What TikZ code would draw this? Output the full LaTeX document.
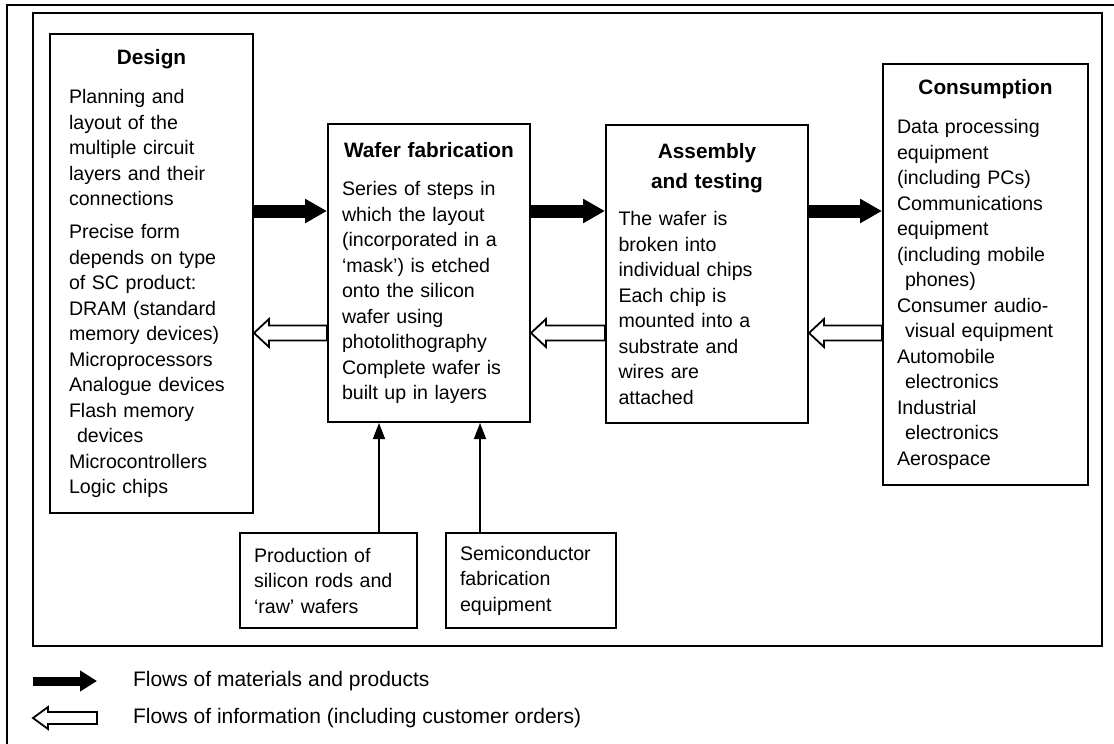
\documentclass[tikz,border=0pt]{standalone}
\usepackage{fontspec}
\setmainfont{Liberation Sans}
\usetikzlibrary{arrows.meta,calc}

\tikzset{
  stage/.style={draw, line width=1pt, anchor=north west, align=left, inner ysep=0pt,
    font=\fontsize{9.8}{12.75}\selectfont},
  matflow/.style={line width=6.5pt, -{Triangle[length=11pt,width=11.5pt]}},
  supply/.style={line width=0.8pt, -{Triangle[length=8pt,width=6pt]}},
  infoflow/.style={draw, line width=0.9pt, fill=white, line join=miter},
  legendtext/.style={anchor=west, font=\fontsize{10.5}{12}\selectfont}
}
\newcommand{\boxtitle}[1]{\hspace*{\fill}{\fontsize{10.4}{12.75}\selectfont\bfseries #1}\hspace*{\fill}\mbox{}}
% hollow arrow: tip, tail, half head, half shaft
\newcommand{\infoarrow}[4]{%
  \draw[infoflow] (#1) -- ++(7.5pt,#3) |- ($(#2)+(0,#4)$) -- ($(#2)+(0,-#4)$)
    -| ($(#1)+(7.5pt,-#3)$) -- cycle;}

\begin{document}
\begin{tikzpicture}[x=0.5pt, y=-0.5pt]
  \useasboundingbox (0,0) rectangle (1114,744);

  % frames
  \draw[line width=0.8pt] (1114,5) -- (7,5) -- (7,744);
  \draw[line width=1.3pt] (33,13) rectangle (1102,646);

  % stages
  \node[stage, text width=82.5pt, inner xsep=9.5pt, minimum height=239.5pt] (design) at (49,33) {%
    \boxtitle{Design}\\[6.75pt]
    Planning and\\ layout of the\\ multiple circuit\\ layers and their\\ connections\\[3.75pt]
    Precise form\\ depends on type\\ of SC product:\\ DRAM (standard\\ memory devices)\\
    Microprocessors\\ Analogue devices\\ Flash memory\\ \hspace*{4pt}devices\\
    Microcontrollers\\ Logic chips};

  \node[stage, text width=87pt, inner xsep=7pt, minimum height=149pt] (wafer) at (327,123) {%
    \boxtitle{Wafer fabrication}\\[6.25pt]
    Series of steps in\\ which the layout\\ (incorporated in a\\ `mask') is etched\\
    onto the silicon\\ wafer using\\ photolithography\\ Complete wafer is\\ built up in layers};

  \node[stage, text width=88.5pt, inner xsep=6.25pt, minimum height=149pt] (assembly) at (605,124) {%
    \boxtitle{Assembly}\\[2.25pt]\boxtitle{and testing}\\[5.75pt]
    The wafer is\\ broken into\\ individual chips\\ Each chip is\\ mounted into a\\
    substrate and\\ wires are\\ attached};

  \node[stage, text width=88.5pt, inner xsep=7pt, minimum height=210.5pt] (consumption) at (882,63) {%
    \boxtitle{Consumption}\\[6.75pt]
    Data processing\\ equipment\\ (including PCs)\\ Communications\\ equipment\\
    (including mobile\\ \hspace*{4pt}phones)\\ Consumer audio-\\ \hspace*{4pt}visual equipment\\
    Automobile\\ \hspace*{4pt}electronics\\ Industrial\\ \hspace*{4pt}electronics\\ Aerospace};

  % inputs
  \node[stage, text width=74.5pt, inner xsep=7pt, minimum height=47.5pt] (silicon) at (239,532) {%
    Production of\\ silicon rods and\\ `raw' wafers};
  \node[stage, text width=71pt, inner xsep=7pt, minimum height=47.5pt] (equipment) at (445,532) {%
    Semiconductor\\ fabrication\\ equipment};

  % flows
  \coordinate (r1) at (0,211);
  \coordinate (r2) at (0,333);
  \draw[matflow] (design.east |- r1) -- (wafer.west |- r1);
  \draw[matflow] (wafer.east |- r1) -- (assembly.west |- r1);
  \draw[matflow] (assembly.east |- r1) -- (consumption.west |- r1);
  \infoarrow{design.east |- r2}{wafer.west |- r2}{7pt}{3.75pt}
  \infoarrow{wafer.east |- r2}{assembly.west |- r2}{7pt}{3.75pt}
  \infoarrow{assembly.east |- r2}{consumption.west |- r2}{7pt}{3.75pt}

  \coordinate (colP) at (379,0);
  \coordinate (colS) at (480,0);
  \draw[supply] (silicon.north -| colP) -- (wafer.south -| colP);
  \draw[supply] (equipment.north -| colS) -- (wafer.south -| colS);

  % legend
  \coordinate (lgA) at (33,681);
  \coordinate (lgB) at (97,681);
  \coordinate (lgC) at (33,718);
  \coordinate (lgD) at (97,718);
  \draw[matflow, line width=4.5pt, -{Triangle[length=8.5pt,width=10pt]}] (lgA) -- (lgB);
  \infoarrow{lgC}{lgD}{5.5pt}{3pt}
  \node[legendtext] (lgmat) at (126,681) {Flows of materials and products};
  \node[legendtext] (lginfo) at (126,718) {Flows of information (including customer orders)};
\end{tikzpicture}
\end{document}
